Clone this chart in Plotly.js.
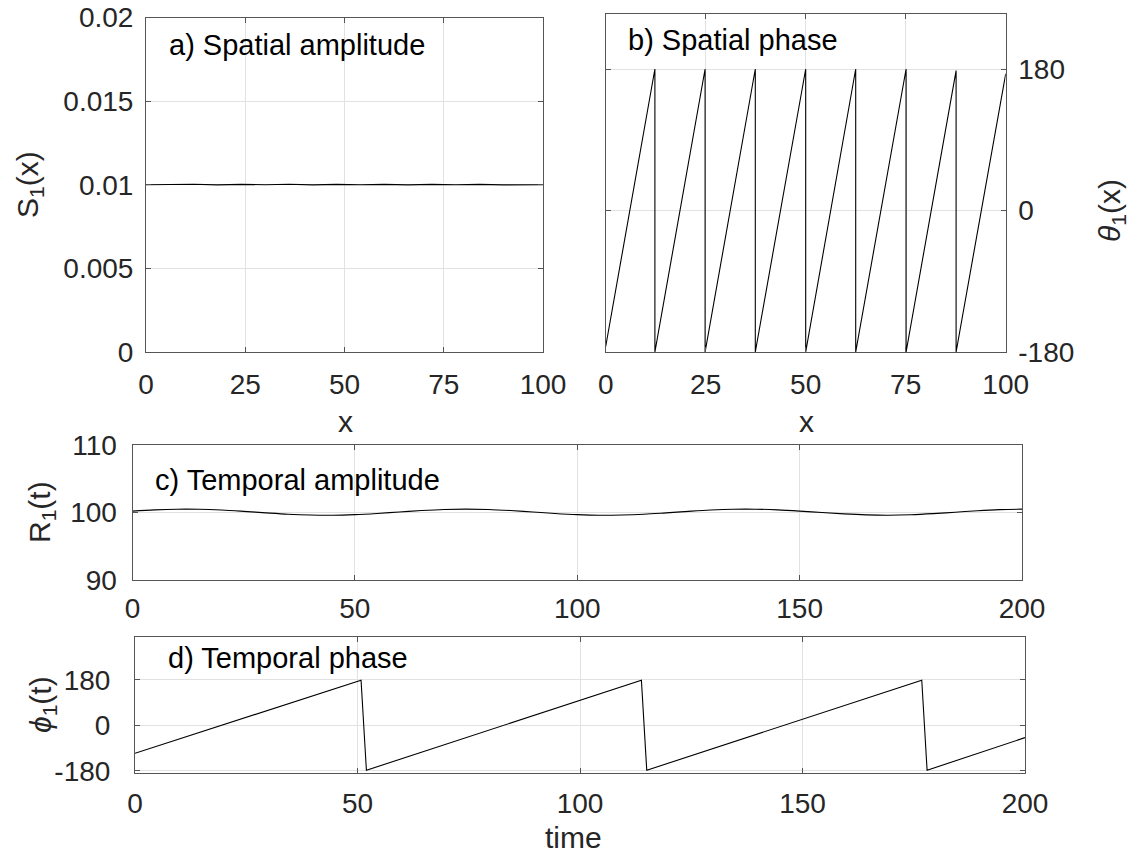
<!DOCTYPE html>
<html>
<head>
<meta charset="utf-8">
<script src="https://cdn.plot.ly/plotly-3.0.1.min.js"></script>
<style>html,body{margin:0;padding:0;background:#fff;}#chart{width:1143px;height:853px;}</style>
</head>
<body>
<div id="chart"></div>
<script>
// ---- Data ----
// a) Spatial amplitude S1(x)
const xA = [0, 6, 12, 18, 24, 30, 36, 42, 48, 54, 60, 66, 72, 78, 84, 90, 96, 100];
const sA = [0.01, 0.010015, 0.01003, 0.009995, 0.010025, 0.01, 0.01003, 0.00999, 0.01002, 0.01, 0.010025, 0.00999, 0.01002, 0.01, 0.01002, 0.00999, 0.010015, 0.01];
// b) Spatial phase theta1(x) (sawtooth vertices)
const xB = [0, 12.3, 12.3, 24.85, 24.85, 37.4, 37.4, 50, 50, 62.5, 62.5, 75.1, 75.1, 87.6, 87.6, 100];
const thB = [-173, 180, -180, 180, -180, 180, -180, 180, -180, 180, -180, 180, -180, 178, -180, 174];
// c) Temporal amplitude R1(t)
const tC = [0,5,10,15,20,25,30,35,40,45,50,55,60,65,70,75,80,85,90,95,100,105,110,115,120,125,130,135,140,145,150,155,160,165,170,175,180,185,190,195,200];
const rC = [100.21,100.39,100.49,100.48,100.36,100.17,99.95,99.75,99.63,99.60,99.69,99.86,100.08,100.29,100.45,100.50,100.45,100.29,100.08,99.86,99.69,99.60,99.63,99.75,99.95,100.17,100.36,100.48,100.49,100.39,100.21,99.99,99.79,99.65,99.60,99.67,99.83,100.04,100.26,100.42,100.50];
// d) Temporal phase phi1(t) (sawtooth vertices)
const tD = [0, 50.8, 52, 113.8, 115, 176.8, 178, 200];
const phD = [-111, 178, -178, 178, -178, 178, -178, -49];

// tick values / labels
const xTicksA = [0, 25, 50, 75, 100];
const yTicksA = [0, 0.005, 0.01, 0.015, 0.02];
const yTextA = ['0', '0.005', '0.01', '0.015', '0.02'];
const phaseTicks = [-180, 0, 180];
const phaseText = ['-180', '0', '180'];
const xTicksT = [0, 50, 100, 150, 200];
const yTicksC = [90, 100, 110];

const W = 1143, H = 853;
const px = v => v / W;
const py = v => 1 - v / H;

const lineStyle = {color: '#000000', width: 1.1};
const traces = [
  {x: xA, y: sA, type: 'scatter', mode: 'lines', line: lineStyle, xaxis: 'x', yaxis: 'y', hoverinfo: 'skip'},
  {x: xB, y: thB, type: 'scatter', mode: 'lines', line: lineStyle, xaxis: 'x2', yaxis: 'y2', hoverinfo: 'skip'},
  {x: tC, y: rC, type: 'scatter', mode: 'lines', line: {color:'#000', width:1.1, shape:'spline'}, xaxis: 'x3', yaxis: 'y3', hoverinfo: 'skip'},
  {x: tD, y: phD, type: 'scatter', mode: 'lines', line: lineStyle, xaxis: 'x4', yaxis: 'y4', hoverinfo: 'skip'}
];

const common = {
  showline: true, linecolor: '#555555', linewidth: 1, mirror: 'ticks',
  ticks: 'inside', ticklen: 5, tickcolor: '#555555', tickwidth: 1,
  showgrid: true, gridcolor: '#e2e2e2', gridwidth: 1, zeroline: false,
  tickfont: {size: 28, color: '#262626'}, fixedrange: true
};

const layout = {
  width: W, height: H, margin: {l: 0, r: 0, t: 0, b: 0},
  paper_bgcolor: '#ffffff', plot_bgcolor: '#ffffff', showlegend: false,
  font: {family: 'Liberation Sans, Arial, Helvetica, sans-serif', size: 28, color: '#262626'},
  xaxis: Object.assign({}, common, {domain: [px(146), px(543)], range: [0, 100], tickmode: 'array', tickvals: xTicksA, anchor: 'y', ticklabelstandoff: 7}),
  yaxis: Object.assign({}, common, {domain: [py(352), py(17.5)], range: [0, 0.02], tickmode: 'array', tickvals: yTicksA, ticktext: yTextA, anchor: 'x', ticklabelstandoff: 6}),
  xaxis2: Object.assign({}, common, {domain: [px(605.7), px(1005.7)], range: [0, 100], tickmode: 'array', tickvals: xTicksA, anchor: 'y2', ticklabelstandoff: 7}),
  yaxis2: Object.assign({}, common, {domain: [py(352), py(14)], range: [-180, 250], tickmode: 'array', tickvals: phaseTicks, ticktext: phaseText, side: 'right', anchor: 'x2', ticklabelstandoff: 6}),
  xaxis3: Object.assign({}, common, {domain: [px(132.5), px(1022)], range: [0, 200], tickmode: 'array', tickvals: xTicksT, anchor: 'y3', ticklabelstandoff: 3}),
  yaxis3: Object.assign({}, common, {domain: [py(580.3), py(444.7)], range: [90, 110], tickmode: 'array', tickvals: yTicksC, anchor: 'x3', ticklabelstandoff: 9}),
  xaxis4: Object.assign({}, common, {domain: [px(135), px(1025)], range: [0, 200], tickmode: 'array', tickvals: xTicksT, anchor: 'y4', ticklabelstandoff: 5}),
  yaxis4: Object.assign({}, common, {domain: [py(773.3), py(636.7)], range: [-190, 350], tickmode: 'array', tickvals: phaseTicks, ticktext: phaseText, anchor: 'x4', ticklabelstandoff: 18}),
  annotations: [
    {text: 'a) Spatial amplitude', x: px(167), y: py(45), xref: 'paper', yref: 'paper', xanchor: 'left', yanchor: 'middle', showarrow: false, font: {size: 29, color: '#000'}},
    {text: 'b) Spatial phase', x: px(626), y: py(40), xref: 'paper', yref: 'paper', xanchor: 'left', yanchor: 'middle', showarrow: false, font: {size: 29, color: '#000'}},
    {text: 'c) Temporal amplitude', x: px(153), y: py(480), xref: 'paper', yref: 'paper', xanchor: 'left', yanchor: 'middle', showarrow: false, font: {size: 29, color: '#000'}},
    {text: 'd) Temporal phase', x: px(166), y: py(658), xref: 'paper', yref: 'paper', xanchor: 'left', yanchor: 'middle', showarrow: false, font: {size: 29, color: '#000'}},
    {text: 'x', x: px(345), y: py(422), xref: 'paper', yref: 'paper', xanchor: 'center', yanchor: 'middle', showarrow: false, font: {size: 30, color: '#262626'}},
    {text: 'x', x: px(806), y: py(422), xref: 'paper', yref: 'paper', xanchor: 'center', yanchor: 'middle', showarrow: false, font: {size: 30, color: '#262626'}},
    {text: 'time', x: px(574), y: py(837), xref: 'paper', yref: 'paper', xanchor: 'center', yanchor: 'middle', showarrow: false, font: {size: 30, color: '#262626'}},
    {text: 'S<sub>1</sub>(x)', x: px(30), y: py(185), xref: 'paper', yref: 'paper', xanchor: 'center', yanchor: 'middle', textangle: -90, showarrow: false, font: {size: 30, color: '#262626'}},
    {text: '<i>θ</i><sub>1</sub>(x)', x: px(1112), y: py(211), xref: 'paper', yref: 'paper', xanchor: 'center', yanchor: 'middle', textangle: -90, showarrow: false, font: {size: 30, color: '#262626'}},
    {text: 'R<sub>1</sub>(t)', x: px(42), y: py(512), xref: 'paper', yref: 'paper', xanchor: 'center', yanchor: 'middle', textangle: -90, showarrow: false, font: {size: 30, color: '#262626'}},
    {text: '<i>ϕ</i><sub>1</sub>(t)', x: px(42), y: py(705), xref: 'paper', yref: 'paper', xanchor: 'center', yanchor: 'middle', textangle: -90, showarrow: false, font: {size: 30, color: '#262626'}}
  ]
};

Plotly.newPlot('chart', traces, layout, {staticPlot: true, displayModeBar: false});
</script>
</body>
</html>
